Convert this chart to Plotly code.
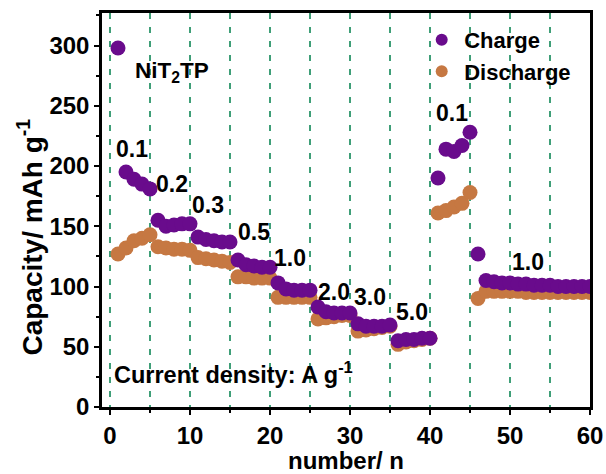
import plotly.graph_objects as go

# Rate-capability test of the NiT2TP electrode
cycles = list(range(1, 61))

charge = [
    298, 195, 189, 185, 181,        # 0.1 A/g
    155, 150, 151, 152, 152,        # 0.2
    141, 139, 138, 137, 137,        # 0.3
    122, 118, 117, 116, 116,        # 0.5
    103, 98, 97, 97, 97,            # 1.0
    83, 79, 78, 78, 78,             # 2.0
    69, 67, 67, 67, 68,             # 3.0
    55, 56, 56, 57, 57,             # 5.0
    190, 214, 212, 217, 228,        # 0.1
    127, 105, 104, 103, 103, 102, 102, 101, 101, 101, 100, 100, 100, 100, 100,  # 1.0
]

discharge = [
    127, 132, 138, 140, 143,
    133, 132, 131, 131, 130,
    124, 123, 122, 121, 120,
    108, 108, 107, 107, 107,
    91, 91, 91, 91, 91,
    73, 74, 75, 76, 76,
    63, 64, 65, 66, 67,
    52, 54, 55, 56, 57,
    161, 163, 166, 169, 178,
    90, 96, 96, 96, 96, 96, 95, 95, 95, 95, 95, 95, 95, 95, 95,
]

# Current-density labels (A g-1) and where they sit
rate_labels = ["0.1", "0.2", "0.3", "0.5", "1.0", "2.0", "3.0", "5.0", "0.1", "1.0"]
rate_x = [2.75, 7.8, 12.25, 18.0, 22.5, 28.0, 32.5, 37.75, 42.75, 52.25]
rate_y = [214, 185, 167.5, 145, 123.5, 95.8, 91.5, 79, 244, 120]

PURPLE = "#690b8c"
ORANGE = "#c67842"
GRID = "#3f9f78"
FONT = "Liberation Sans, Arial, sans-serif"

fig = go.Figure()
fig.add_trace(go.Scatter(
    x=cycles, y=discharge, mode="markers", name="Discharge",
    marker=dict(size=15, color=ORANGE, line=dict(width=0)),
))
fig.add_trace(go.Scatter(
    x=cycles, y=charge, mode="markers", name="Charge",
    marker=dict(size=15, color=PURPLE, line=dict(width=0)),
))

for t, x, y in zip(rate_labels, rate_x, rate_y):
    fig.add_annotation(x=x, y=y, text=f"<b>{t}</b>", showarrow=False,
                       font=dict(family=FONT, size=23, color="black"))

fig.add_annotation(x=2.9, y=278, text="<b>NiT<sub>2</sub>TP</b>", showarrow=False,
                   xanchor="left", font=dict(family=FONT, size=22.5, color="black"))
fig.add_annotation(x=0.3, y=28, text="<b>Current density: A g<sup>-1</sup></b>",
                   showarrow=False, xanchor="left",
                   font=dict(family=FONT, size=23.5, color="black"))

# Axis titles
fig.add_annotation(xref="paper", yref="paper", x=0.5, y=0, yshift=-53,
                   text="<b>number/ n</b>", showarrow=False, yanchor="middle",
                   font=dict(family=FONT, size=24, color="black"))
fig.add_annotation(xref="paper", yref="paper", x=0, xshift=-72, y=0.43,
                   text="<b>Capacity/ mAh g<sup>-1</sup></b>", showarrow=False,
                   textangle=-90, xanchor="center", yanchor="middle",
                   font=dict(family=FONT, size=28, color="black"))

axis_common = dict(
    showline=True, linecolor="black", linewidth=2.5, mirror=True,
    ticks="outside", ticklen=5, tickwidth=2, tickcolor="black",
    tickfont=dict(family=FONT, size=24, color="black", weight="bold"),
    zeroline=False, automargin=False,
)

fig.update_xaxes(
    range=[-1, 60], tick0=0, dtick=10,
    showgrid=True, gridcolor=GRID, gridwidth=1.5, griddash="6px,8px",
    minor=dict(dtick=5, ticks="outside", ticklen=3, tickwidth=2, tickcolor="black",
               showgrid=True, gridcolor=GRID, gridwidth=1.5, griddash="6px,8px"),
    **axis_common,
)
fig.update_yaxes(
    range=[0, 327], tick0=0, dtick=50, showgrid=False,
    minor=dict(dtick=25, ticks="outside", ticklen=3, tickwidth=2, tickcolor="black"),
    **axis_common,
)

fig.update_layout(
    width=606, height=474,
    margin=dict(l=102, r=16, t=13, b=67),
    plot_bgcolor="white", paper_bgcolor="white",
    showlegend=True,
    legend=dict(x=0.65, y=0.985, xanchor="left", yanchor="top",
                traceorder="reversed", bgcolor="rgba(0,0,0,0)",
                itemwidth=35,
                font=dict(family=FONT, size=22, color="black", weight="bold"),
                itemsizing="constant", tracegroupgap=0),
)

fig.write_html("out.html")
